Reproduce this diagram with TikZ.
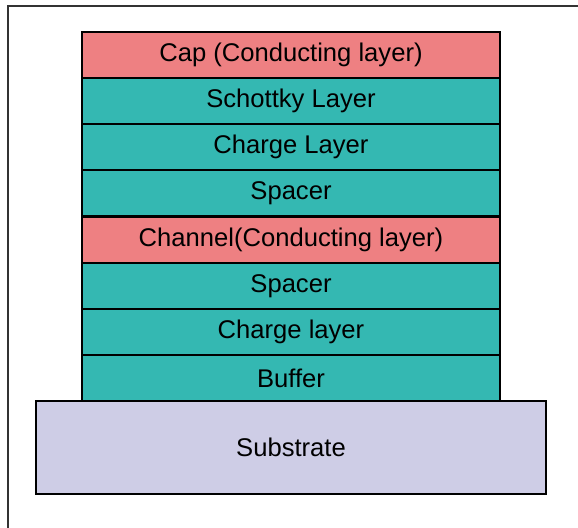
\documentclass[tikz,border=0pt]{standalone}
\usepackage{fontspec}
\setmainfont{Liberation Sans}
\usetikzlibrary{positioning}
\definecolor{capred}{RGB}{238,128,130}
\definecolor{layerteal}{RGB}{52,184,178}
\definecolor{subsgray}{RGB}{206,205,230}
\tikzset{
  layer/.style={draw=black, line width=1.6pt, minimum width=313.5pt, minimum height=34.6pt,
    inner sep=0pt, outer sep=0pt, font=\fontsize{19.2}{21}\selectfont},
  red layer/.style={layer, fill=capred},
  teal layer/.style={layer, fill=layerteal},
}
\begin{document}
\begin{tikzpicture}[x=0.75pt,y=-0.75pt]
    \useasboundingbox (0,0) rectangle (578,528);
    \fill[white] (0,0) rectangle (578,528);

    %marco
    \draw[line width=1pt,black!80] (8,528) -- (8,6) -- (578,6);

    \node[red layer, anchor=north] (cap) at (291,32) {Cap (Conducting layer)};
    \node[teal layer, below=0pt of cap] (schottky) {Schottky Layer};
    \node[teal layer, below=0pt of schottky] (charge1) {Charge Layer};
    \node[teal layer, below=0pt of charge1] (spacer1) {Spacer};
    \node[red layer, below=0pt of spacer1] (channel) {Channel(Conducting layer)};
    \node[teal layer, below=0pt of channel] (spacer2) {Spacer};
    \node[teal layer, below=0pt of spacer2] (charge2) {Charge layer};
    \node[teal layer, below=0pt of charge2] (buffer) {Buffer};

    %sustrato
    \node[layer, fill=subsgray, minimum width=383pt, minimum height=70pt,
      below=0pt of buffer] (substrate) {Substrate};

\end{tikzpicture}
\end{document}
